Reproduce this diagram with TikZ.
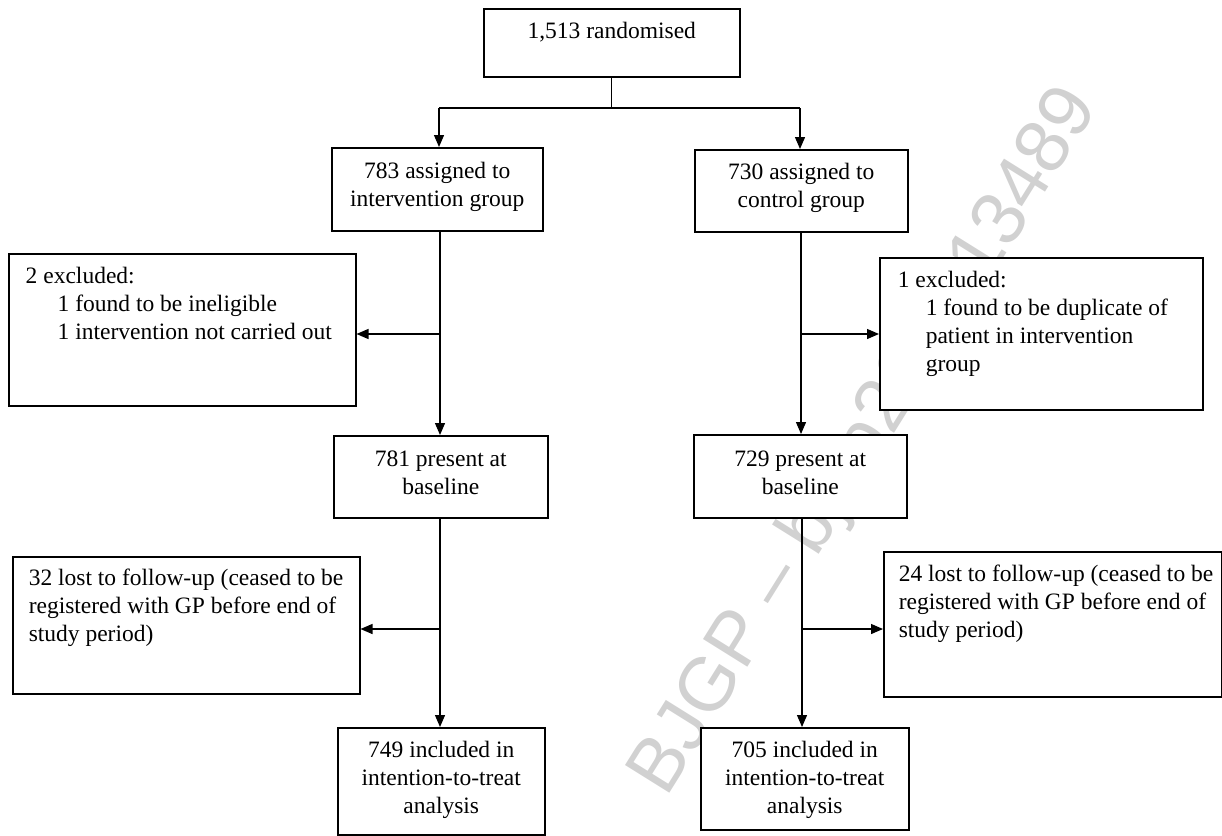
\documentclass[tikz,border=0pt]{standalone}
\usepackage{fontspec}
\setmainfont{Liberation Serif}
\newfontfamily\wmfont{Liberation Sans}
\usetikzlibrary{arrows.meta}
\newcommand\bt[5]{\parbox[t][#2][t]{#1}{#3\rule{0pt}{#4}#5}}
\newcommand\lft[1]{\raggedright\leftskip=#1\relax}
\begin{document}
\begin{tikzpicture}[x=1pt,y=-1pt,
  bx/.style={draw, line width=1.5pt, fill=white, inner sep=0pt, anchor=north west,
             font=\fontsize{23.5}{28}\selectfont},
  ln/.style={line width=1.3pt},
  arr/.style={ln, -{Triangle[length=12pt,width=10pt]}}]
\useasboundingbox (0,0) rectangle (1222,835);
% watermark
\node[rotate=58, text=black!18, font=\wmfont\fontsize{76}{76}\selectfont] (wm) at (866,442) {BJGP – bjgp20X713489};
% boxes
\node[bx] (rand) at (483,8) {\bt{256pt}{68pt}{\centering}{30pt}{1,513 randomised}};
\node[bx] (int) at (331,147) {\bt{211pt}{83pt}{\centering}{31pt}{783 assigned to\\intervention group}};
\node[bx] (ctl) at (694,149) {\bt{213pt}{82pt}{\centering}{30pt}{730 assigned to\\control group}};
\node[bx] (exL) at (8,253) {\bt{347pt}{152pt}{\lft{17pt}}{30pt}{2 excluded:\\\hspace*{32pt}1 found to be ineligible\\\hspace*{32pt}1 intervention not carried out}};
\node[bx] (exR) at (879,257) {\bt{323pt}{152pt}{\lft{18pt}}{30pt}{1 excluded:\\\hspace*{28pt}1 found to be duplicate of\\\hspace*{28pt}patient in intervention\\\hspace*{28pt}group}};
\node[bx] (bL) at (333,435) {\bt{214pt}{82pt}{\centering}{31pt}{781 present at\\baseline}};
\node[bx] (bR) at (693,434) {\bt{213pt}{83pt}{\centering}{32pt}{729 present at\\baseline}};
\node[bx] (lostL) at (12,556) {\bt{347pt}{137pt}{\lft{16pt}}{29pt}{32 lost to follow-up (ceased to be\\registered with GP before end of\\study period)}};
\node[bx] (lostR) at (883,551) {\bt{338pt}{145pt}{\lft{15pt}}{30pt}{24 lost to follow-up (ceased to be\\registered with GP before end of\\study period)}};
\node[bx] (itL) at (337,727) {\bt{207pt}{107pt}{\centering}{30pt}{749 included in\\intention-to-treat\\analysis}};
\node[bx] (itR) at (700,727) {\bt{208pt}{102pt}{\centering}{30pt}{705 included in\\intention-to-treat\\analysis}};
% connectors
\coordinate (jL) at (439,108);
\coordinate (jR) at (800,108);
\draw[ln] (rand.south) -- (rand.south |- jL);
\draw[ln] (jL) -- (jR);
\draw[arr] (jL) -- (jL |- int.north);
\draw[arr] (jR) -- (jR |- ctl.north);
\coordinate (cL) at (440,334);
\coordinate (cL2) at (440,629);
\coordinate (cR) at (801,334);
\coordinate (cR2) at (802,629);
\draw[arr] (int.south -| cL) -- (cL |- bL.north);
\draw[arr] (cL) -- (cL -| exL.east);
\draw[arr] (bL.south -| cL2) -- (cL2 |- itL.north);
\draw[arr] (cL2) -- (cL2 -| lostL.east);
\draw[arr] (ctl.south -| cR) -- (cR |- bR.north);
\draw[arr] (cR) -- (cR -| exR.west);
\draw[arr] (bR.south -| cR2) -- (cR2 |- itR.north);
\draw[arr] (cR2) -- (cR2 -| lostR.west);
\end{tikzpicture}
\end{document}
